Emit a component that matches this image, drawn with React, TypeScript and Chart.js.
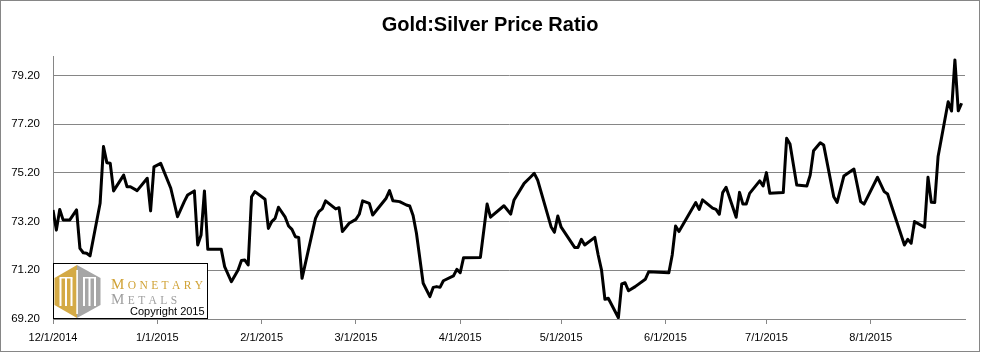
import React, { useEffect, useRef } from "react";
import { Chart, registerables } from "chart.js";

Chart.register(...registerables);

// Days since 12/1/2014 for each observation
const dayIndex = [
  0, 1, 2, 3, 5, 7, 8, 9, 10, 11, 14, 15, 16, 17, 18, 21, 22, 23, 25, 28, 29, 30, 32, 35, 37, 39, 40, 42, 43, 44,
  45, 46, 50, 51, 53, 55, 56, 57, 58, 59, 60, 63, 64, 65, 66, 67, 69, 70, 71, 72, 73, 74, 78, 79, 80, 81, 84, 85,
  86, 88, 90, 91, 92, 94, 95, 99, 100, 101, 103, 105, 106, 107, 108, 110, 112, 113, 114, 115, 116, 119, 120, 121,
  122, 127, 129, 130, 134, 136, 137, 140, 142, 143, 144, 148, 149, 150, 151, 155, 156, 157, 158, 161, 162, 163,
  164, 165, 168, 169, 170, 171, 173, 176, 177, 183, 184, 185, 186, 191, 192, 193, 196, 197, 198, 199, 200, 203,
  204, 205, 206, 207, 210, 211, 212, 213, 217, 218, 219, 221, 224, 225, 226, 228, 229, 232, 233, 235, 238, 240,
  241, 245, 247, 248, 253, 254, 255, 256, 259, 260, 261, 262, 263, 266, 267, 268, 269, 270,
];

// Gold:Silver price ratio
const ratio = [
  73.68, 72.85, 73.7, 73.27, 73.27, 73.68, 72.1, 71.92, 71.9, 71.79, 73.95, 76.28, 75.62, 75.6, 74.46, 75.11, 74.63,
  74.63, 74.47, 74.98, 73.64, 75.45, 75.59, 74.57, 73.4, 74.02, 74.29, 74.46, 72.24, 72.65,
  74.46, 72.06, 72.06, 71.35, 70.73, 71.21, 71.6, 71.62, 71.42, 74.22, 74.43, 74.12, 72.92, 73.2, 73.33, 73.79, 73.38,
  73.02, 72.88, 72.58, 72.55, 70.87, 73.33, 73.61, 73.72, 74.05, 73.72, 73.77,
  72.79, 73.13, 73.29, 73.5, 74.05, 73.95, 73.47, 74.16, 74.47, 74.06, 74.02, 73.88, 73.84, 73.45, 72.72, 70.67, 70.12,
  70.5, 70.53, 70.5, 70.77, 70.97, 71.24, 71.1,
  71.72, 71.73, 73.92, 73.38, 73.85, 73.51, 74.09, 74.77, 75.04, 75.18, 74.91, 72.99, 72.76, 73.43, 72.97, 72.14, 72.14,
  72.47, 72.24, 72.55, 71.83, 71.21,
  70.01, 70.05, 69.25, 70.64, 70.69, 70.36, 70.53, 70.83, 71.14, 71.1, 71.83, 73.02, 72.79, 73.98, 73.7, 74.09, 73.75,
  73.7, 73.5, 74.39, 74.61, 73.38,
  74.4, 73.92, 73.92, 74.36, 74.87, 74.66, 75.21, 74.36, 74.39, 76.62, 76.39, 74.7, 74.66, 75.11, 76.11, 76.44, 76.35,
  74.22, 73.99, 75.07, 75.36, 74.02,
  73.92, 75.02, 74.43, 74.33, 72.24, 72.47, 72.31, 73.2, 72.97, 75.02, 73.99, 73.98, 75.87, 78.12, 77.74, 79.84, 77.75,
  78.06,
];

const monthTickDays = [0, 31, 62, 90, 121, 151, 182, 212, 243];
const monthTickLabels = [
  "12/1/2014",
  "1/1/2015",
  "2/1/2015",
  "3/1/2015",
  "4/1/2015",
  "5/1/2015",
  "6/1/2015",
  "7/1/2015",
  "8/1/2015",
];
const yTickValues = [69.2, 71.2, 73.2, 75.2, 77.2, 79.2];

const chartTitle = "Gold:Silver Price Ratio";
const logoWord1 = "MONETARY";
const logoWord2 = "METALS";
const logoCopyright = "Copyright 2015";

const W = 981;
const H = 353;

function drawSmallCaps(ctx: CanvasRenderingContext2D, word: string, x: number, y: number, color: string, spacing: number) {
  ctx.fillStyle = color;
  ctx.textBaseline = "alphabetic";
  ctx.textAlign = "left";
  let cx = x;
  for (let i = 0; i < word.length; i++) {
    const ch = word[i];
    ctx.font = i === 0 ? "15px 'Liberation Serif', serif" : "11.5px 'Liberation Serif', serif";
    ctx.fillText(ch, cx, y);
    cx += ctx.measureText(ch).width + spacing;
  }
}

const decorPlugin = {
  id: "decor",
  beforeDraw(chart: any) {
    const ctx = chart.ctx as CanvasRenderingContext2D;
    ctx.save();
    ctx.fillStyle = "#ffffff";
    ctx.fillRect(0, 0, W, H);
    ctx.strokeStyle = "#868686";
    ctx.lineWidth = 1;
    ctx.strokeRect(0.5, 0.5, 979, 351);
    // title
    ctx.fillStyle = "#000000";
    ctx.textAlign = "center";
    ctx.textBaseline = "middle";
    ctx.font = "bold 20px 'Liberation Sans Narrow', 'Liberation Sans', sans-serif";
    ctx.fillText(chartTitle, 490, 25);
    ctx.restore();
  },
  afterDraw(chart: any) {
    const ctx = chart.ctx as CanvasRenderingContext2D;
    ctx.save();
    // logo box
    const bx = 53.5, by = 263.5, bw = 154, bh = 55;
    ctx.fillStyle = "#ffffff";
    ctx.fillRect(bx, by, bw, bh);
    ctx.strokeStyle = "#000000";
    ctx.lineWidth = 1;
    ctx.strokeRect(bx, by, bw, bh);
    // hexagon
    const cx = 77, top = 265, bot = 318, l = 54.5, r = 100.5, u = 278, d = 305;
    ctx.beginPath();
    ctx.moveTo(cx, top);
    ctx.lineTo(l, u);
    ctx.lineTo(l, d);
    ctx.lineTo(cx, bot);
    ctx.closePath();
    ctx.fillStyle = "#D4AA45";
    ctx.fill();
    ctx.beginPath();
    ctx.moveTo(cx, top);
    ctx.lineTo(r, u);
    ctx.lineTo(r, d);
    ctx.lineTo(cx, bot);
    ctx.closePath();
    ctx.fillStyle = "#A6A6A6";
    ctx.fill();
    // white stripes
    ctx.fillStyle = "#ffffff";
    const stripes = [59.5, 65, 70.5, 83, 88.5, 94];
    for (const sx of stripes) ctx.fillRect(sx, 278, 2, 28);
    ctx.fillRect(76.3, 270, 1.6, 44);
    ctx.fillRect(59.5, 277, 13, 1.5);
    ctx.fillRect(83, 277, 13, 1.5);
    // words
    drawSmallCaps(ctx, logoWord1, 111, 289, "#D0A235", 3.4);
    drawSmallCaps(ctx, logoWord2, 111, 304, "#9E9E9E", 3.4);
    ctx.fillStyle = "#000000";
    ctx.font = "11px 'Liberation Sans', sans-serif";
    ctx.textAlign = "left";
    ctx.textBaseline = "alphabetic";
    ctx.fillText(logoCopyright, 130, 315);
    ctx.restore();
  },
};

export default function App() {
  const ref = useRef<HTMLCanvasElement | null>(null);
  useEffect(() => {
    if (!ref.current) return;
    const points = dayIndex.map((d, i) => ({ x: d, y: ratio[i] }));
    const chart = new Chart(ref.current, {
      type: "line",
      data: {
        datasets: [
          {
            data: points,
            borderColor: "#000000",
            borderWidth: 3,
            pointRadius: 0,
            tension: 0,
            borderJoinStyle: "round",
            fill: false,
          },
        ],
      },
      options: {
        animation: false,
        responsive: false,
        maintainAspectRatio: false,
        layout: { padding: { left: 0, right: 16, top: 56, bottom: 0 } },
        plugins: { legend: { display: false }, title: { display: false }, tooltip: { enabled: false } },
        scales: {
          x: {
            type: "linear",
            min: 0,
            max: 271,
            afterBuildTicks: (scale: any) => {
              scale.ticks = monthTickDays.map((v) => ({ value: v }));
            },
            afterFit: (scale: any) => {
              scale.height = 34;
            },
            ticks: {
              autoSkip: false,
              maxRotation: 0,
              padding: 7,
              color: "#000000",
              font: { family: "'Liberation Sans', sans-serif", size: 11 },
              callback: (v: any) => {
                const i = monthTickDays.indexOf(Number(v));
                return i >= 0 ? monthTickLabels[i] : "";
              },
            },
            grid: { drawOnChartArea: false, drawTicks: true, tickLength: 5, color: "#868686" },
            border: { display: true, color: "#868686", width: 1 },
          },
          y: {
            type: "linear",
            min: 69.2,
            max: 80.0,
            afterBuildTicks: (scale: any) => {
              scale.ticks = yTickValues.map((v) => ({ value: v }));
            },
            afterFit: (scale: any) => {
              scale.width = 53;
            },
            ticks: {
              padding: 13,
              color: "#000000",
              font: { family: "'Liberation Sans', sans-serif", size: 11.5 },
              callback: (v: any) => Number(v).toFixed(2),
            },
            grid: { drawTicks: false, color: "#868686", lineWidth: 1 },
            border: { display: true, color: "#868686", width: 1 },
          },
        },
      },
      plugins: [decorPlugin],
    } as any);
    return () => chart.destroy();
  }, []);
  return (
    <div style={{ position: "absolute", left: 0, top: 0, width: W, height: H }}>
      <canvas ref={ref} width={W} height={H} style={{ display: "block", width: W, height: H }} />
    </div>
  );
}
